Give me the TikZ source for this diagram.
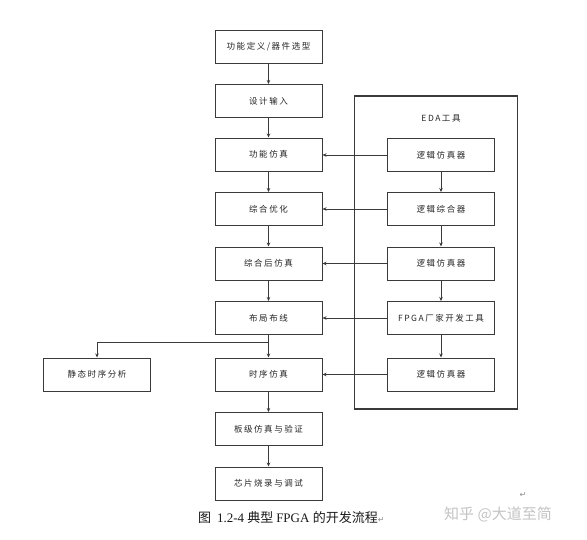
\documentclass[tikz,border=0pt]{standalone}
\usepackage{fontspec}
\setmainfont{Liberation Serif}
\newfontfamily\cjk[LetterSpace=18]{Noto Sans CJK SC}
\newfontfamily\cjkcap{Noto Sans CJK SC}
\newfontfamily\dejavu{DejaVu Sans}
\usetikzlibrary{arrows.meta}
\definecolor{linegray}{HTML}{3A3A3A}
\definecolor{wmgray}{HTML}{C4C4C4}
\tikzset{
  box/.style={draw=linegray, line width=1pt, minimum width=107pt, minimum height=33pt, inner sep=0pt, font=\cjk\fontsize{8.5}{10}\selectfont, text=black!85},
  flow/.style={draw=linegray, line width=0.8pt, -{Stealth[length=4pt,width=3.5pt]}}
}
\begin{document}
\begin{tikzpicture}[x=1pt,y=-1pt]
\useasboundingbox (0,0) rectangle (587,539);
\fill[white] (0,0) rectangle (587,539);
% EDA frame
\node[draw=linegray, line width=1.1pt, minimum width=163pt, minimum height=313pt, inner sep=0pt] (eda) at (436,252.5) {};
\node[font=\cjk\fontsize{8.5}{10}\selectfont, text=black!85] (edat) at (441,118) {EDA工具};
% left column
\node[box] (a1) at (268.5,46.5) {功能定义/器件选型};
\node[box] (a2) at (268.5,101) {设计输入};
\node[box] (a3) at (268.5,154.5) {功能仿真};
\node[box] (a4) at (268.5,209) {综合优化};
\node[box] (a5) at (268.5,263.5) {综合后仿真};
\node[box] (a6) at (268.5,318) {布局布线};
\node[box] (a7) at (268.5,374.5) {时序仿真};
\node[box] (a8) at (268.5,429) {板级仿真与验证};
\node[box] (a9) at (268.5,483.5) {芯片烧录与调试};
\node[box] (s) at (97,374.5) {静态时序分析};
% right column
\node[box] (b1) at (441,155) {逻辑仿真器};
\node[box] (b2) at (441,209) {逻辑综合器};
\node[box] (b3) at (441,263.5) {逻辑仿真器};
\node[box] (b4) at (441,318) {FPGA厂家开发工具};
\node[box] (b5) at (441,374.5) {逻辑仿真器};
% vertical flow
\draw[flow] (a1) -- (a2);
\draw[flow] (a2) -- (a3);
\draw[flow] (a3) -- (a4);
\draw[flow] (a4) -- (a5);
\draw[flow] (a5) -- (a6);
\draw[flow] (a6) -- (a7);
\draw[flow] (a7) -- (a8);
\draw[flow] (a8) -- (a9);
\draw[flow] (b1) -- (b2);
\draw[flow] (b2) -- (b3);
\draw[flow] (b3) -- (b4);
\draw[flow] (b4) -- (b5);
% horizontal
\draw[flow] (b1) -- (a3.east |- b1);
\draw[flow] (b2) -- (a4);
\draw[flow] (b3) -- (a5);
\draw[flow] (b4) -- (a6);
\draw[flow] (b5) -- (a7);
% branch to static timing
\coordinate (br) at (268.5,342);
\draw[flow] (br) -| (s.north);
% caption
\node[anchor=west, font=\fontsize{13}{15}\selectfont, text=black!90, inner sep=0pt] (cap) at (198,518) {\cjkcap 图\ \ \rmfamily 1.2-4\ \cjkcap 典型\ \rmfamily FPGA\ \cjkcap 的开发流程\textcolor{black!45}{\dejavu\fontsize{8}{9}\selectfont ↵}};
\node[font=\dejavu\fontsize{8}{9}\selectfont, text=black!45] (rm) at (523,495) {↵};
\node[anchor=west, font=\cjkcap\fontsize{15}{17}\selectfont, text=wmgray, inner sep=0pt] (wm) at (444,514) {知乎 @大道至简};
\end{tikzpicture}
\end{document}
